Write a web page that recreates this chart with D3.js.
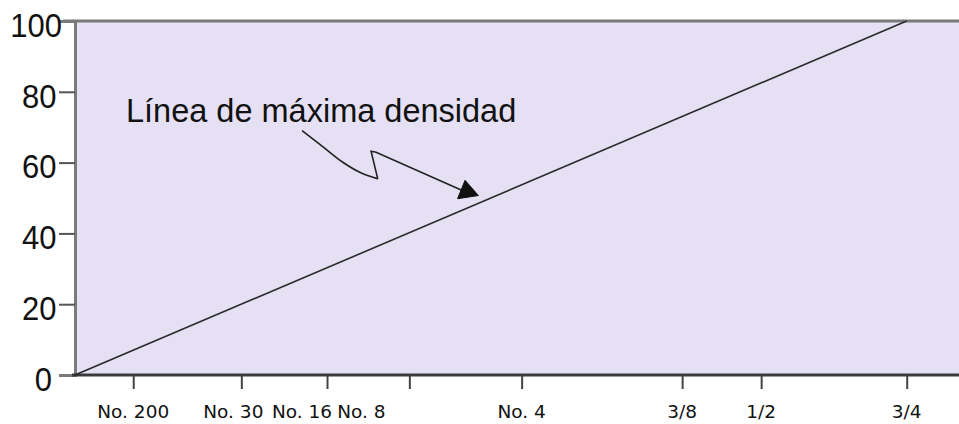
<!DOCTYPE html>
<html>
<head>
<meta charset="utf-8">
<script src="https://cdn.jsdelivr.net/npm/d3@7"></script>
<style>
  html, body { margin: 0; padding: 0; background: #ffffff; }
  svg { display: block; }
</style>
</head>
<body>
<svg id="chart" width="959" height="424"></svg>
<script>
// Sieve sizes on the 0.45-power axis, placed as a percentage of the 3/4" position
const sieveLabels = ["No. 200", "No. 30", "No. 16", "No. 8", "No. 4", "3/8", "1/2", "3/4"];
const sievePos = [7.0, 20.0, 30.3, 40.2, 53.7, 73.0, 82.5, 100];

// Percent passing axis
const passingTicks = [0, 20, 40, 60, 80, 100];

// Maximum density line: from the origin to 100 % at the maximum size
const densityX = [0, 100];
const densityY = [0, 100];

// Annotation pointer (in axis units)
const pointerX = [27.3, 29.9, 32.2, 34.3, 36.4, 35.6, 36.2, 46.5];
const pointerY = [69.0, 64.3, 60.1, 57.2, 55.4, 63.2, 62.9, 52.2];
const headX = [46.9, 48.5, 46.0];
const headY = [55.0, 50.7, 49.8];

const annotationText = "Línea de máxima densidad";

(function draw() {
  const svg = d3.select("#chart");
  const W = 959;
  const mLeft = 75, mTop = 21, mBottom = 375;

  const x = d3.scaleLinear().domain([0, 100]).range([mLeft, 906.7]);
  const y = d3.scaleLinear().domain([0, 100]).range([mBottom, mTop]);

  // Plot background
  svg.append("rect")
    .attr("x", mLeft).attr("y", mTop)
    .attr("width", W - mLeft).attr("height", mBottom - mTop)
    .attr("fill", "#e5e0f4");

  // Top frame line
  svg.append("line")
    .attr("x1", mLeft - 12).attr("x2", W)
    .attr("y1", mTop).attr("y2", mTop)
    .attr("stroke", "#7a7a7a").attr("stroke-width", 3);

  // Y axis
  const yAxis = d3.axisLeft(y).tickValues(passingTicks).tickSize(16).tickPadding(3);
  const gy = svg.append("g").attr("transform", `translate(${mLeft},0)`).call(yAxis);
  gy.select(".domain").attr("stroke", "#7a7a7a").attr("stroke-width", 3);
  gy.selectAll(".tick line").attr("stroke", "#555").attr("stroke-width", 2)
    .filter(d => d === 0 || d === 100).remove();
  gy.selectAll(".tick text")
    .attr("font-family", "Liberation Sans, Arial, sans-serif")
    .attr("font-size", 31)
    .attr("fill", "#111")
    .attr("dy", "0.45em")
    .attr("x", d => d === 0 ? -23 : d === 100 ? -13 : -18.5)
    .attr("transform", "scale(1,1.1)");

  // X axis
  const xAxis = d3.axisBottom(x).tickValues(sievePos).tickSize(14).tickFormat("");
  const gx = svg.append("g").attr("transform", `translate(0,${mBottom})`).call(xAxis);
  gx.select(".domain").attr("stroke", "#3a3a3a").attr("stroke-width", 3)
    .attr("d", `M${mLeft - 3},0H${W}`);
  gx.selectAll(".tick line").attr("stroke", "#444").attr("stroke-width", 2);

  // Sieve labels (the crowded fine-sieve labels are packed to the left of their ticks)
  const labelShift = [0, -8, -25, -48, 0, 0, 0, 0];
  svg.append("g").selectAll("text")
    .data(sieveLabels)
    .join("text")
    .attr("x", (d, i) => x(sievePos[i]) + labelShift[i])
    .attr("y", 418)
    .attr("text-anchor", "middle")
    .attr("font-family", "DejaVu Sans, Verdana, sans-serif")
    .attr("font-size", 18.5)
    .attr("fill", "#111")
    .text(d => d);

  // Maximum density line
  const line = d3.line().x(d => x(d[0])).y(d => y(d[1]));
  svg.append("path")
    .datum(d3.zip(densityX, densityY))
    .attr("d", line)
    .attr("fill", "none")
    .attr("stroke", "#2a2a2a")
    .attr("stroke-width", 1.6);

  // Annotation label
  svg.append("text")
    .attr("x", 126).attr("y", 122)
    .attr("font-family", "Liberation Sans, Arial, sans-serif")
    .attr("font-size", 32.5)
    .attr("fill", "#111")
    .text(annotationText);

  // Zig-zag pointer
  const curved = d3.line().x(d => x(d[0])).y(d => y(d[1])).curve(d3.curveCatmullRom);
  const pts = d3.zip(pointerX, pointerY);
  svg.append("path")
    .attr("d", curved(pts.slice(0, 5)))
    .attr("fill", "none").attr("stroke", "#222").attr("stroke-width", 1.6);
  svg.append("path")
    .attr("d", line(pts.slice(4)))
    .attr("fill", "none").attr("stroke", "#222").attr("stroke-width", 1.6)
    .attr("stroke-linejoin", "miter");
  svg.append("path")
    .attr("d", line(d3.zip(headX, headY)) + "Z")
    .attr("fill", "#111").attr("stroke", "#111").attr("stroke-width", 1);
})();
</script>
</body>
</html>
